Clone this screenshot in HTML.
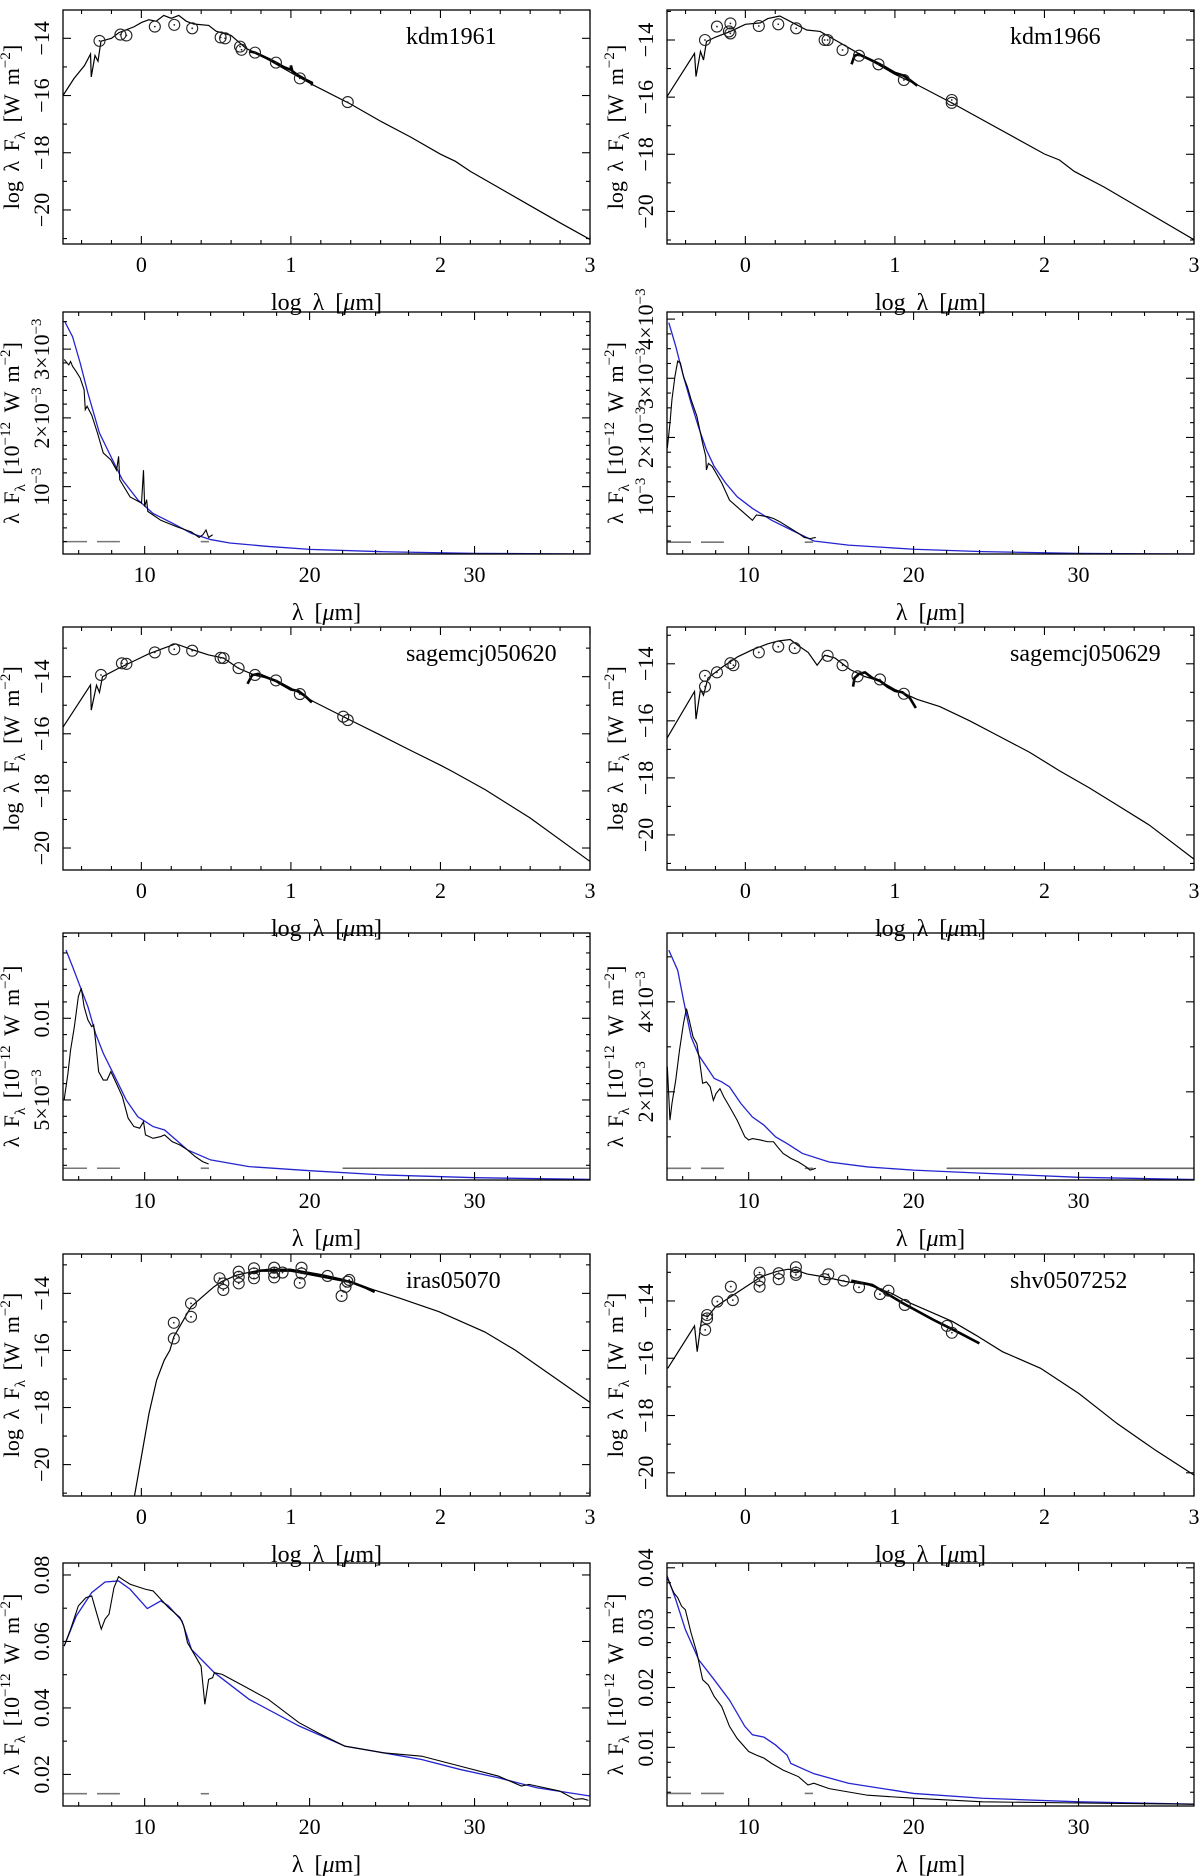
<!DOCTYPE html>
<html><head><meta charset="utf-8"><title>SED panels</title>
<style>
html,body{margin:0;padding:0;background:#fff;}
svg{display:block;}
text{font-family:"Liberation Serif",serif;fill:#000;}
</style></head>
<body>
<svg id="fig" xmlns="http://www.w3.org/2000/svg" width="1200" height="1876" viewBox="0 0 1200 1876"></svg>
<script>
// ===== DATA (log-lambda SED panels: x = log10 lambda [um], y = log lambda F_lambda) =====
const kdm1961ModelX=[-0.524,-0.45,-0.38,-0.34,-0.335,-0.31,-0.29,-0.27,-0.2,-0.15,-0.1,-0.05,0,0.05,0.1,0.15,0.2,0.25,0.3,0.35,0.45,0.5,0.6,0.7,0.8,0.9,1.0,1.148,1.4,1.6,1.8,2.0,2.1,2.2,2.4,2.6,2.8,3.0];
const kdm1961ModelY=[-16.0,-15.4,-14.95,-14.55,-15.35,-14.6,-14.8,-14.1,-14.0,-13.8,-13.7,-13.6,-13.45,-13.35,-13.4,-13.2,-13.3,-13.2,-13.4,-13.5,-13.55,-13.75,-13.9,-14.35,-14.6,-14.9,-15.2,-15.63,-16.3,-16.9,-17.45,-18.05,-18.3,-18.65,-19.25,-19.85,-20.45,-21.03];
const kdm1961PhotX=[-0.28,-0.14,-0.1,0.09,0.22,0.34,0.53,0.56,0.66,0.67,0.76,0.9,1.06,1.38];
const kdm1961PhotY=[-14.09,-13.87,-13.9,-13.59,-13.53,-13.65,-13.97,-14.0,-14.29,-14.4,-14.5,-14.85,-15.4,-16.23];
const kdm1961SpecX=[0.72,0.76,0.8,0.85,0.9,0.95,1.0,1.0,1.01,1.05,1.1,1.14,1.14];
const kdm1961SpecY=[-14.45,-14.5,-14.6,-14.72,-14.85,-15.0,-15.1,-14.95,-15.15,-15.3,-15.45,-15.55,-15.65];

const kdm1966ModelX=[-0.524,-0.34,-0.33,-0.3,-0.28,-0.26,-0.2,-0.1,0,0.1,0.15,0.23,0.3,0.41,0.5,0.6,0.7,0.8,1.0,1.15,1.38,2.0,2.1,2.2,2.4,3.0];
const kdm1966ModelY=[-15.98,-14.47,-15.28,-14.4,-14.7,-14.05,-13.9,-13.7,-13.45,-13.4,-13.25,-13.16,-13.35,-13.65,-13.7,-14.0,-14.3,-14.6,-15.2,-15.57,-16.2,-17.99,-18.2,-18.6,-19.15,-20.99];
const kdm1966PhotX=[-0.27,-0.19,-0.1,-0.1,-0.11,0.09,0.22,0.34,0.53,0.55,0.65,0.76,0.89,1.06,1.38,1.38];
const kdm1966PhotY=[-14.0,-13.53,-13.42,-13.77,-13.7,-13.51,-13.45,-13.59,-14.0,-14.0,-14.35,-14.55,-14.85,-15.4,-16.1,-16.2];
const kdm1966SpecX=[0.71,0.73,0.76,0.8,0.9,1.0,1.06,1.1,1.15];
const kdm1966SpecY=[-14.85,-14.55,-14.5,-14.6,-14.85,-15.15,-15.25,-15.4,-15.6];

const sage620ModelX=[-0.524,-0.34,-0.335,-0.3,-0.28,-0.26,-0.15,-0.05,0.05,0.15,0.23,0.35,0.45,0.55,0.65,0.76,0.9,1.0,1.15,1.4,1.6,1.8,2.0,2.08,2.3,2.6,3.0];
const sage620ModelY=[-15.77,-14.29,-15.17,-14.3,-14.55,-14.0,-13.7,-13.45,-13.2,-13.0,-12.85,-13.07,-13.24,-13.35,-13.71,-13.95,-14.12,-14.4,-14.87,-15.53,-16.05,-16.58,-17.1,-17.32,-17.96,-18.95,-20.47];
const sage620PhotX=[-0.27,-0.13,-0.1,0.09,0.22,0.34,0.53,0.55,0.65,0.76,0.9,1.06,1.35,1.38];
const sage620PhotY=[-13.94,-13.53,-13.55,-13.15,-13.04,-13.09,-13.34,-13.35,-13.7,-13.94,-14.13,-14.61,-15.4,-15.52];
const sage620SpecX=[0.71,0.74,0.78,0.85,0.9,0.95,1.0,1.05,1.1,1.14];
const sage620SpecY=[-14.25,-13.95,-13.9,-14.05,-14.15,-14.3,-14.45,-14.5,-14.7,-14.9];

const sage629ModelX=[-0.524,-0.34,-0.33,-0.3,-0.28,-0.25,-0.15,-0.05,0.05,0.15,0.22,0.3,0.35,0.42,0.48,0.53,0.6,0.7,0.8,0.9,1.0,1.15,1.3,1.5,1.7,1.9,2.1,2.3,2.5,2.7,3.0];
const sage629ModelY=[-16.61,-14.97,-15.94,-14.9,-15.1,-14.5,-14.1,-13.75,-13.5,-13.3,-13.2,-13.15,-13.35,-13.6,-14.05,-13.7,-13.8,-14.2,-14.45,-14.6,-14.9,-15.25,-15.5,-16.0,-16.55,-17.1,-17.75,-18.35,-19.0,-19.65,-20.85];
const sage629PhotX=[-0.27,-0.27,-0.19,-0.1,-0.08,0.09,0.22,0.33,0.55,0.65,0.75,0.9,1.06];
const sage629PhotY=[-14.8,-14.42,-14.3,-13.98,-14.05,-13.6,-13.4,-13.45,-13.72,-14.05,-14.44,-14.55,-15.05];
const sage629SpecX=[0.72,0.73,0.76,0.8,0.85,0.9,0.95,1.0,1.05,1.1,1.14];
const sage629SpecY=[-14.8,-14.5,-14.35,-14.3,-14.5,-14.6,-14.8,-14.95,-15.0,-15.2,-15.55];

const iras05070ModelX=[-0.046,0,0.051,0.102,0.153,0.191,0.217,0.281,0.332,0.408,0.485,0.536,0.638,0.74,0.842,0.995,1.097,1.224,1.352,1.556,1.735,1.99,2.296,2.5,2.755,3.0];
const iras05070ModelY=[-21.1,-19.73,-18.21,-17.04,-16.34,-15.99,-15.52,-14.94,-14.47,-14.12,-13.77,-13.59,-13.36,-13.24,-13.16,-13.15,-13.24,-13.36,-13.51,-13.88,-14.18,-14.64,-15.35,-15.99,-16.92,-17.82];
const iras05070PhotX=[0.217,0.217,0.332,0.332,0.523,0.548,0.548,0.651,0.651,0.651,0.753,0.753,0.753,0.888,0.888,0.888,0.944,1.059,1.071,1.071,1.245,1.339,1.365,1.378,1.39];
const iras05070PhotY=[-15.03,-15.58,-14.35,-14.82,-13.47,-13.65,-13.88,-13.24,-13.42,-13.65,-13.12,-13.3,-13.47,-13.1,-13.27,-13.44,-13.27,-13.63,-13.1,-13.3,-13.39,-14.09,-13.77,-13.59,-13.53];
const iras05070SpecX=[0.72,0.8,0.9,1.0,1.1,1.2,1.3,1.4,1.5,1.56];
const iras05070SpecY=[-13.3,-13.2,-13.2,-13.2,-13.3,-13.4,-13.5,-13.6,-13.8,-13.95];

const shvModelX=[-0.519,-0.34,-0.322,-0.289,-0.251,-0.199,-0.097,0.005,0.107,0.21,0.286,0.363,0.414,0.517,0.67,0.824,0.977,1.079,1.233,1.386,1.54,1.719,1.974,2.23,2.486,2.742,3.0];
const shvModelY=[-16.35,-14.87,-15.77,-14.49,-14.55,-14.2,-13.85,-13.5,-13.15,-12.97,-12.89,-12.97,-13.06,-13.15,-13.32,-13.44,-13.73,-14.02,-14.37,-14.72,-15.19,-15.77,-16.35,-17.23,-18.28,-19.21,-20.08];
const shvPhotX=[-0.269,-0.256,-0.256,-0.187,-0.097,-0.084,0.095,0.095,0.095,0.223,0.223,0.338,0.338,0.338,0.529,0.555,0.657,0.76,0.9,0.957,1.066,1.348,1.381];
const shvPhotY=[-15.01,-14.61,-14.49,-14.02,-13.5,-13.97,-13.01,-13.27,-13.5,-13.03,-13.24,-12.82,-13.01,-13.09,-13.24,-13.07,-13.29,-13.52,-13.76,-13.64,-14.14,-14.87,-15.11];
const shvSpecX=[0.708,0.849,1.054,1.258,1.437,1.565];
const shvSpecY=[-13.29,-13.44,-14.08,-14.66,-15.13,-15.48];

// ===== DATA (linear spectrum panels: x = lambda [um], y = lambda F_lambda [1e-12 W m^-2]) =====
// kdm1961, kdm1966, sagemcj050620, sagemcj050629 values are in units of 1e-3
const kdm1961FitX=[5.16,5.63,6.09,6.56,7.26,7.95,8.65,9.58,10.51,11.67,12.84,14.0,15.16,17.49,20.0,24.47,30.05,37.0];
const kdm1961FitY=[3.40,3.18,2.80,2.36,1.78,1.44,1.10,0.81,0.61,0.47,0.32,0.23,0.18,0.13,0.087,0.053,0.029,0.019];
const kdm1961IrsX=[5.12,5.4,5.51,5.63,5.86,6.09,6.33,6.4,6.51,6.79,7.14,7.49,7.95,8.3,8.42,8.49,9.12,9.81,9.93,10.0,10.12,10.19,10.98,11.91,12.84,13.3,13.53,13.72,13.88,14.12];
const kdm1961IrsY=[2.85,2.77,2.82,2.75,2.67,2.58,2.41,2.12,2.17,2.04,1.78,1.49,1.39,1.24,1.44,1.10,0.85,0.76,1.24,0.71,0.81,0.64,0.51,0.42,0.34,0.26,0.30,0.37,0.26,0.30];
const kdm1961Level=0.2;

const kdm1966FitX=[5.16,5.58,6.05,6.51,6.98,7.44,7.91,8.6,9.3,10.23,11.4,12.56,13.95,16.05,20.0,24.19,30.0,37.0];
const kdm1966FitY=[3.94,3.54,3.03,2.58,2.16,1.79,1.51,1.23,1.0,0.80,0.60,0.44,0.25,0.18,0.11,0.07,0.04,0.03];
const kdm1966IrsX=[5.07,5.23,5.35,5.53,5.7,5.86,6.05,6.28,6.51,6.86,7.21,7.4,7.44,7.56,7.79,8.02,8.37,8.84,9.53,10.23,10.47,11.16,11.51,11.86,12.56,13.02,13.37,13.72,14.07];
const kdm1966IrsY=[1.82,2.24,2.64,3.03,3.29,3.26,3.03,2.86,2.64,2.36,1.9,1.68,1.45,1.56,1.51,1.40,1.23,0.94,0.77,0.60,0.69,0.66,0.63,0.58,0.46,0.38,0.31,0.29,0.31];
const kdm1966Level=0.23;

const sage620FitX=[5.23,5.63,6.09,6.56,7.02,7.49,8.19,8.88,9.58,10.51,11.21,11.91,12.6,14.0,16.33,20.0,24.47,30.05,37.0];
const sage620FitY=[14.18,13.16,11.94,10.71,9.08,7.86,6.43,5.0,3.98,3.37,3.16,2.55,1.94,1.33,0.92,0.67,0.41,0.24,0.14];
const sage620IrsX=[5.12,5.35,5.51,5.74,5.98,6.16,6.33,6.56,6.79,6.91,7.02,7.21,7.49,7.72,7.95,8.19,8.65,9.0,9.35,9.7,9.93,10.05,10.51,10.98,11.21,11.67,12.14,12.6,13.07,13.53,13.88];
const sage620IrsY=[5.0,6.63,8.06,9.49,11.33,11.84,10.71,9.9,9.49,9.59,8.67,6.73,6.22,6.22,6.73,6.22,5.2,3.88,3.37,3.27,3.67,2.86,2.65,2.76,2.86,2.45,2.24,1.94,1.53,1.22,1.08];
const sage620Level=0.82;

const sage629FitX=[5.16,5.7,6.05,6.51,6.98,7.44,7.91,8.37,8.84,9.53,10.23,10.93,11.63,12.33,13.26,14.88,17.21,20.0,24.19,30.0,37.0];
const sage629FitY=[5.15,4.7,4.04,3.22,2.81,2.56,2.30,2.22,2.11,1.74,1.44,1.26,1.0,0.85,0.63,0.44,0.33,0.26,0.19,0.10,0.05];
const sage629IrsX=[5.07,5.23,5.35,5.58,5.81,6.05,6.23,6.4,6.63,6.86,7.02,7.21,7.44,7.67,7.86,8.02,8.26,8.49,8.84,9.3,9.77,10.0,10.23,10.7,11.16,11.51,11.74,12.09,12.56,13.02,13.49,13.72,14.07];
const sage629IrsY=[2.56,1.37,1.74,2.26,2.93,3.52,3.85,3.59,3.22,3.07,2.70,2.19,2.22,2.11,1.81,1.96,2.07,1.89,1.67,1.37,1.0,0.93,0.96,0.93,0.89,0.89,0.78,0.63,0.52,0.44,0.33,0.26,0.30];
const sage629Level=0.30;

const irasFitX=[5.12,5.86,6.79,7.6,8.42,9.12,10.16,10.98,11.44,12.26,12.84,14.23,16.33,19.35,22.14,24.47,26.79,29.12,31.44,33.77,37.0];
const irasFitY=[0.0586,0.0677,0.0747,0.0779,0.0782,0.0757,0.0699,0.0722,0.0707,0.0662,0.0576,0.0506,0.0426,0.0346,0.0285,0.0265,0.0245,0.0215,0.019,0.016,0.0135];
const irasIrsX=[5.12,5.51,5.98,6.44,6.79,7.02,7.37,7.6,7.84,8.14,8.42,8.65,9.12,10.05,10.51,10.98,11.44,12.14,12.37,12.6,13.07,13.42,13.65,13.88,14.12,14.23,14.7,15.63,17.49,19.35,20.51,22.14,24.47,26.79,29.12,31.44,32.84,33.3,35.16,36.09,36.56,36.91];
const irasIrsY=[0.0586,0.0637,0.0707,0.0732,0.0737,0.0697,0.0637,0.0667,0.0682,0.0762,0.0795,0.0787,0.0772,0.0757,0.0752,0.0727,0.0702,0.0672,0.0647,0.0596,0.0556,0.0526,0.0411,0.0486,0.0491,0.0506,0.0501,0.0476,0.0426,0.0356,0.0325,0.0285,0.0265,0.0255,0.0225,0.0195,0.0165,0.017,0.015,0.0125,0.0127,0.0122];
const irasLevel=0.0142;

const shvFitX=[5.02,5.58,6.16,6.98,7.91,8.84,9.77,10.23,10.93,11.63,12.33,12.56,13.95,16.05,20.0,24.19,30.0,37.0];
const shvFitY=[0.0389,0.0347,0.0297,0.0246,0.0213,0.0179,0.0135,0.0121,0.0117,0.0104,0.0087,0.0073,0.0056,0.0040,0.0023,0.0015,0.0009,0.0005];
const shvIrsX=[5.02,5.47,5.7,5.93,6.16,6.51,6.86,7.21,7.56,7.91,8.37,8.84,9.3,10.0,10.47,10.93,11.4,12.09,13.02,13.6,13.95,14.88,17.21,20.0,24.19,30.0,37.0];
const shvIrsY=[0.0386,0.0358,0.035,0.0336,0.033,0.0291,0.0258,0.0213,0.0204,0.0185,0.0168,0.0135,0.0115,0.0093,0.0087,0.0082,0.0073,0.0062,0.0051,0.0037,0.004,0.0031,0.002,0.0015,0.0009,0.0007,0.0005];
const shvLevel=0.0023;

// tick labels
const sedXTickVals=[0,1,2,3];
const sedXTickLabels=["0","1","2","3"];
const sedYTickVals=[-14,-16,-18,-20];
const sedYTickLabels=["−14","−16","−18","−20"];
const specXTickVals=[10,20,30];
const specXTickLabels=["10","20","30"];
const E3='<tspan font-size="15" dy="-8">−3</tspan>';
const kdm1961YTickVals=[1,2,3];
const kdm1961YTickLabels=['10'+E3,'2×10'+E3,'3×10'+E3];
const kdm1966YTickVals=[1,2,3,4];
const kdm1966YTickLabels=['10'+E3,'2×10'+E3,'3×10'+E3,'4×10'+E3];
const sage620YTickVals=[5,10];
const sage620YTickLabels=['5×10'+E3,'0.01'];
const sage629YTickVals=[2,4];
const sage629YTickLabels=['2×10'+E3,'4×10'+E3];
const irasYTickVals=[0.02,0.04,0.06,0.08];
const irasYTickLabels=['0.02','0.04','0.06','0.08'];
const shvYTickVals=[0.01,0.02,0.03,0.04];
const shvYTickLabels=['0.01','0.02','0.03','0.04'];

// ===== LAYOUT =====
const LX=[63,590], RX=[667,1194];
const panels=[
 {id:'kdm1961-sed',kind:'sed',l:LX[0],r:LX[1],t:10,b:244,x0:-0.524,x1:3,y0:-21.19,y1:-13.01,name:'kdm1961',model:[kdm1961ModelX,kdm1961ModelY],phot:[kdm1961PhotX,kdm1961PhotY],spec:[kdm1961SpecX,kdm1961SpecY],yt:[sedYTickVals,sedYTickLabels],ym:1},
 {id:'kdm1966-sed',kind:'sed',l:RX[0],r:RX[1],t:10,b:244,x0:-0.524,x1:3,y0:-21.14,y1:-12.95,name:'kdm1966',model:[kdm1966ModelX,kdm1966ModelY],phot:[kdm1966PhotX,kdm1966PhotY],spec:[kdm1966SpecX,kdm1966SpecY],yt:[sedYTickVals,sedYTickLabels],ym:1},
 {id:'kdm1961-spectrum',kind:'spec',l:LX[0],r:LX[1],t:312,b:554,x0:5.05,x1:37,y0:0.02,y1:3.54,fit:[kdm1961FitX,kdm1961FitY],irs:[kdm1961IrsX,kdm1961IrsY],level:kdm1961Level,solid:false,yt:[kdm1961YTickVals,kdm1961YTickLabels],ym:0.2},
 {id:'kdm1966-spectrum',kind:'spec',l:RX[0],r:RX[1],t:312,b:554,x0:5.05,x1:37,y0:0.03,y1:4.12,fit:[kdm1966FitX,kdm1966FitY],irs:[kdm1966IrsX,kdm1966IrsY],level:kdm1966Level,solid:false,yt:[kdm1966YTickVals,kdm1966YTickLabels],ym:0.25},
 {id:'sagemcj050620-sed',kind:'sed',l:LX[0],r:LX[1],t:627,b:870,x0:-0.524,x1:3,y0:-20.77,y1:-12.26,name:'sagemcj050620',model:[sage620ModelX,sage620ModelY],phot:[sage620PhotX,sage620PhotY],spec:[sage620SpecX,sage620SpecY],yt:[sedYTickVals,sedYTickLabels],ym:1},
 {id:'sagemcj050629-sed',kind:'sed',l:RX[0],r:RX[1],t:627,b:870,x0:-0.524,x1:3,y0:-21.23,y1:-12.71,name:'sagemcj050629',model:[sage629ModelX,sage629ModelY],phot:[sage629PhotX,sage629PhotY],spec:[sage629SpecX,sage629SpecY],yt:[sedYTickVals,sedYTickLabels],ym:1},
 {id:'sagemcj050620-spectrum',kind:'spec',l:LX[0],r:LX[1],t:933,b:1180,x0:5.05,x1:37,y0:0.1,y1:15.22,fit:[sage620FitX,sage620FitY],irs:[sage620IrsX,sage620IrsY],level:sage620Level,solid:true,yt:[sage620YTickVals,sage620YTickLabels],ym:1},
 {id:'sagemcj050629-spectrum',kind:'spec',l:RX[0],r:RX[1],t:933,b:1180,x0:5.05,x1:37,y0:0.04,y1:5.53,fit:[sage629FitX,sage629FitY],irs:[sage629IrsX,sage629IrsY],level:sage629Level,solid:true,yt:[sage629YTickVals,sage629YTickLabels],ym:1},
 {id:'iras05070-sed',kind:'sed',l:LX[0],r:LX[1],t:1254,b:1496,x0:-0.524,x1:3,y0:-21.1,y1:-12.62,name:'iras05070',model:[iras05070ModelX,iras05070ModelY],phot:[iras05070PhotX,iras05070PhotY],spec:[iras05070SpecX,iras05070SpecY],yt:[sedYTickVals,sedYTickLabels],ym:1},
 {id:'shv0507252-sed',kind:'sed',l:RX[0],r:RX[1],t:1254,b:1496,x0:-0.524,x1:3,y0:-20.81,y1:-12.36,name:'shv0507252',model:[shvModelX,shvModelY],phot:[shvPhotX,shvPhotY],spec:[shvSpecX,shvSpecY],yt:[sedYTickVals,sedYTickLabels],ym:1},
 {id:'iras05070-spectrum',kind:'spec',l:LX[0],r:LX[1],t:1563,b:1806,x0:5.05,x1:37,y0:0.0105,y1:0.0836,fit:[irasFitX,irasFitY],irs:[irasIrsX,irasIrsY],level:irasLevel,solid:false,yt:[irasYTickVals,irasYTickLabels],ym:0.01},
 {id:'shv0507252-spectrum',kind:'spec',l:RX[0],r:RX[1],t:1563,b:1806,x0:5.05,x1:37,y0:0.0002,y1:0.0408,fit:[shvFitX,shvFitY],irs:[shvIrsX,shvIrsY],level:shvLevel,solid:false,yt:[shvYTickVals,shvYTickLabels],ym:0.0025}
];

const NS='http://www.w3.org/2000/svg';
const svg=document.getElementById('fig');
function mk(parent,tag,attrs){const e=document.createElementNS(NS,tag);for(const k in attrs)e.setAttribute(k,attrs[k]);parent.appendChild(e);return e;}
function sx(p,v){return p.l+(v-p.x0)/(p.x1-p.x0)*(p.r-p.l);}
function sy(p,v){return p.b-(v-p.y0)/(p.y1-p.y0)*(p.b-p.t);}
function pathOf(p,xs,ys){let d='';for(let i=0;i<xs.length;i++){d+=(i?'L':'M')+sx(p,xs[i]).toFixed(2)+','+sy(p,ys[i]).toFixed(2);}return d;}

panels.forEach((p,pi)=>{
  const g=mk(svg,'g',{});
  
  
  const cp=mk(g,'clipPath',{id:'clip'+pi});
  mk(cp,'rect',{x:p.l,y:p.t,width:p.r-p.l,height:p.b-p.t});
  const data=mk(g,'g',{'clip-path':'url(#clip'+pi+')'});
  
  

  const xminor=p.kind==='sed'?0.2:2, xmajor=p.kind==='sed'?1:10;
  const tk=mk(g,'g',{stroke:'#000','stroke-width':1.1});
  
  
  for(let v=Math.ceil(p.x0/xminor-1e-6)*xminor;v<=p.x1+1e-9;v+=xminor){
    const isMaj=Math.abs(v/xmajor-Math.round(v/xmajor))<1e-6;const L=isMaj?8:4;const X=sx(p,v);
    mk(tk,'line',{x1:X,y1:p.b,x2:X,y2:p.b-L});mk(tk,'line',{x1:X,y1:p.t,x2:X,y2:p.t+L});
  }
  const ymajVals=p.yt[0];
  for(let v=Math.ceil(p.y0/p.ym-1e-6)*p.ym;v<=p.y1+1e-9;v+=p.ym){
    const isMaj=p.kind==='sed'?Math.abs(v/2-Math.round(v/2))<1e-6:ymajVals.some(m=>Math.abs(m-v)<p.ym*0.01);
    const L=isMaj?8:4;const Y=sy(p,v);
    mk(tk,'line',{x1:p.l,y1:Y,x2:p.l+L,y2:Y});mk(tk,'line',{x1:p.r,y1:Y,x2:p.r-L,y2:Y});
  }

  if(p.kind==='sed'){
    const m=mk(data,'path',{d:pathOf(p,p.model[0],p.model[1]),fill:'none',stroke:'#000','stroke-width':1.2});
    
    
    const s=mk(data,'path',{d:pathOf(p,p.spec[0],p.spec[1]),fill:'none',stroke:'#000','stroke-width':2.6});
    
    
    for(let i=0;i<p.phot[0].length;i++){
      const c=mk(data,'circle',{cx:sx(p,p.phot[0][i]),cy:sy(p,p.phot[1][i]),r:5.5,fill:'none',stroke:'#222','stroke-width':1.1});
      
      
      const d=mk(data,'circle',{cx:sx(p,p.phot[0][i]),cy:sy(p,p.phot[1][i]),r:0.9,fill:'#222'});
      
      
    }
    const nm=mk(g,'text',{x:p.l+343,y:p.t+34,'font-size':24});
    nm.textContent=p.name;
    
    
  } else {
    const Y=sy(p,p.level);
    const d1=mk(data,'line',{x1:sx(p,5.05),y1:Y,x2:sx(p,8.5),y2:Y,stroke:'#777','stroke-width':1.6,'stroke-dasharray':'24 10'});
    
    
    const d2=mk(data,'line',{x1:sx(p,13.4),y1:Y,x2:sx(p,13.9),y2:Y,stroke:'#777','stroke-width':1.6});
    
    
    if(p.solid){
      const d3=mk(data,'line',{x1:sx(p,22),y1:Y,x2:sx(p,37),y2:Y,stroke:'#666','stroke-width':1.6});
      
      
    }
    const b=mk(data,'path',{d:pathOf(p,p.fit[0],p.fit[1]),fill:'none',stroke:'#2424d0','stroke-width':1.3});
    
    
    const k=mk(data,'path',{d:pathOf(p,p.irs[0],p.irs[1]),fill:'none',stroke:'#000','stroke-width':1.1});
    
    
  }

  const frame=mk(g,'rect',{x:p.l,y:p.t,width:p.r-p.l,height:p.b-p.t,fill:'none',stroke:'#000','stroke-width':1.3});
  
  

  const xv=p.kind==='sed'?sedXTickVals:specXTickVals, xl=p.kind==='sed'?sedXTickLabels:specXTickLabels;
  xv.forEach((v,i)=>{
    const t=mk(g,'text',{x:sx(p,v),y:p.b+28,'font-size':22,'text-anchor':'middle'});
    t.textContent=xl[i];
    
    
  });
  p.yt[0].forEach((v,i)=>{
    const X=p.l-14, Yp=sy(p,v);
    const t=mk(g,'text',{x:X,y:Yp,'font-size':22,'text-anchor':'middle',transform:'rotate(-90 '+X+' '+Yp+')'});
    t.innerHTML=p.yt[1][i];
    
    
  });
  const xt=mk(g,'text',{x:(p.l+p.r)/2,y:p.b+66,'font-size':24,'text-anchor':'middle','word-spacing':'5'});
  xt.innerHTML=p.kind==='sed'?'log λ [<tspan font-style="italic">μ</tspan>m]':'λ [<tspan font-style="italic">μ</tspan>m]';
  
  
  const TX=p.l-44, TY=(p.t+p.b)/2;
  const yt=mk(g,'text',{x:TX,y:TY,'font-size':22,'text-anchor':'middle','word-spacing':'4',transform:'rotate(-90 '+TX+' '+TY+')'});
  yt.innerHTML=p.kind==='sed'
    ?'log λ F<tspan font-size="15" dy="6">λ</tspan><tspan dy="-6"> [W m</tspan><tspan font-size="15" dy="-9">−2</tspan><tspan dy="9">]</tspan>'
    :'λ F<tspan font-size="15" dy="6">λ</tspan><tspan dy="-6"> [10</tspan><tspan font-size="15" dy="-9">−12</tspan><tspan dy="9"> W m</tspan><tspan font-size="15" dy="-9">−2</tspan><tspan dy="9">]</tspan>';
  
  
});
</script>
</body></html>
